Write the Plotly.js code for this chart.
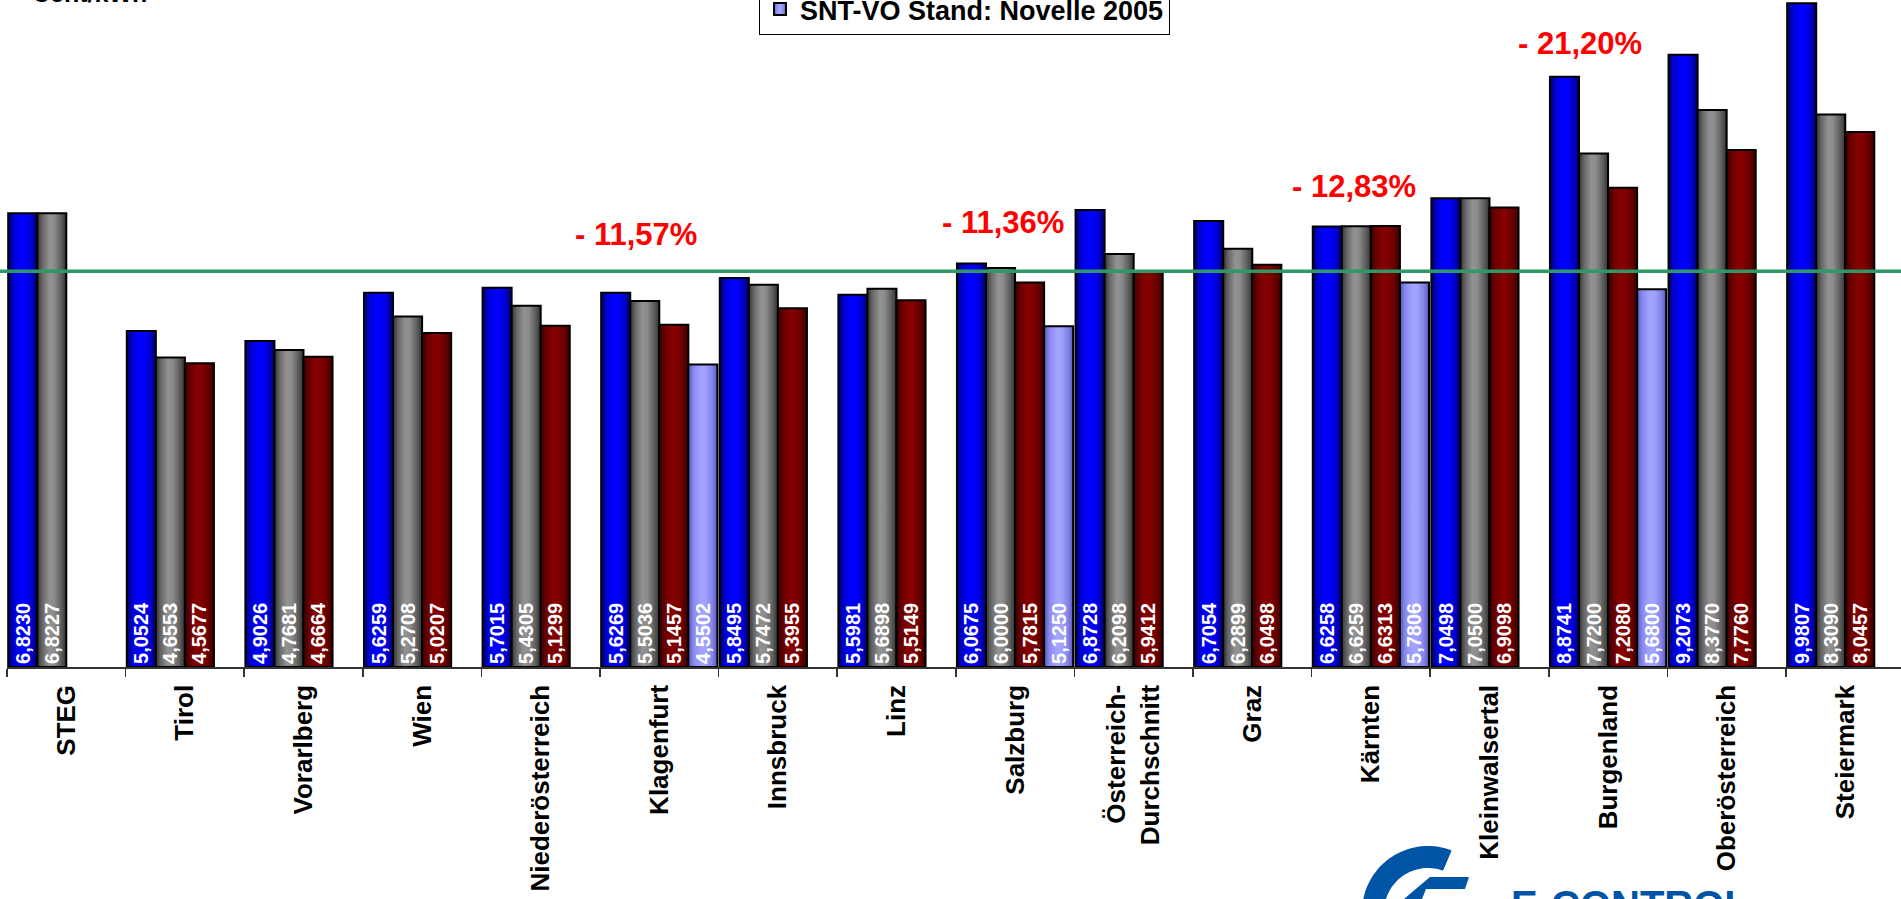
<!DOCTYPE html>
<html>
<head>
<meta charset="utf-8">
<script src="https://cdn.plot.ly/plotly-3.0.1.min.js"></script>
<style>
  html, body { margin: 0; padding: 0; background: #ffffff; overflow: hidden; }
  #chart { width: 1901px; height: 899px; }
</style>
</head>
<body>
<div id="chart"></div>
<script>
// ---------- data ----------
const categories = ['STEG', 'Tirol', 'Vorarlberg', 'Wien', 'Niederösterreich', 'Klagenfurt',
  'Innsbruck', 'Linz', 'Salzburg', 'Österreich-<br>Durchschnitt', 'Graz', 'Kärnten',
  'Kleinwalsertal', 'Burgenland', 'Oberösterreich', 'Steiermark'];

const seriesBlue = [6.8230, 5.0524, 4.9026, 5.6259, 5.7015, 5.6269, 5.8495, 5.5981, 6.0675,
  6.8728, 6.7054, 6.6258, 7.0498, 8.8741, 9.2073, 9.9807];
const seriesGray = [6.8227, 4.6553, 4.7681, 5.2708, 5.4305, 5.5036, 5.7472, 5.6898, 6.0000,
  6.2098, 6.2899, 6.6259, 7.0500, 7.7200, 8.3770, 8.3090];
const seriesRed = [null, 4.5677, 4.6664, 5.0207, 5.1299, 5.1457, 5.3955, 5.5149, 5.7815,
  5.9412, 6.0498, 6.6313, 6.9098, 7.2080, 7.7760, 8.0457];
const seriesNovelle2005 = [null, null, null, null, null, 4.5502, null, null, 5.1250,
  null, null, 5.7806, null, 5.6800, null, null];

const legendName = 'SNT-VO Stand: Novelle 2005';
const unitLabel = 'Cent/kWh';
const referenceLine = 5.95;
const changeLabels = ['- 11,57%', '- 11,36%', '- 12,83%', '- 21,20%'];
const logoText = 'E-CONTROL';

// ---------- helpers ----------
const FONT = 'Liberation Sans, Arial, Helvetica, sans-serif';
const fmt = v => (v === null ? '' : v.toFixed(4).replace('.', ','));

// plot area geometry (pixels)
const PL = 7, PW = 1894, PH = 667;
const px = x => (x - PL) / PW;
const py = y => (PH - y) / PH;

function barTrace(name, values, color, showLegend) {
  return {
    type: 'bar',
    name: name,
    x: categories,
    y: values,
    text: values.map(fmt),
    textposition: 'inside',
    insidetextanchor: 'start',
    textangle: -90,
    constraintext: 'none',
    insidetextfont: { family: FONT, size: 20, color: '#ffffff', weight: 'bold' },
    marker: { color: color, line: { color: '#000000', width: 2 } },
    showlegend: showLegend,
    hoverinfo: 'x+y+name'
  };
}

const traces = [
  barTrace('Serie 1', seriesBlue, '#0000ff', false),
  barTrace('Serie 2', seriesGray, '#7a7a7a', false),
  barTrace('Serie 3', seriesRed, '#780000', false),
  barTrace(legendName, seriesNovelle2005, '#9999ff', true)
];

// ---------- logo geometry (decoration) ----------
function ringPath() {
  const cx = 1428, cy = 912, R = 66, r = 44, a0 = 69, a1 = 250;
  const pts = [];
  for (let a = a0; a <= a1; a += 3) {
    const t = a * Math.PI / 180;
    pts.push([cx + R * Math.cos(t), cy - R * Math.sin(t)]);
  }
  for (let a = a1; a >= a0; a -= 3) {
    const t = a * Math.PI / 180;
    pts.push([cx + r * Math.cos(t), cy - r * Math.sin(t)]);
  }
  return 'M' + pts.map(p => px(p[0]).toFixed(5) + ',' + py(p[1]).toFixed(5)).join('L') + 'Z';
}
function polyPath(list) {
  return 'M' + list.map(p => px(p[0]).toFixed(5) + ',' + py(p[1]).toFixed(5)).join('L') + 'Z';
}

const annStyle = { family: FONT, size: 31, color: '#ff0000', weight: 'bold' };

const layout = {
  width: 1901,
  height: 899,
  margin: { l: PL, r: 0, t: 0, b: 899 - PH, autoexpand: false },
  paper_bgcolor: '#ffffff',
  plot_bgcolor: '#ffffff',
  barmode: 'group',
  bargap: 0.02,
  bargroupgap: 0,
  font: { family: FONT, color: '#000000' },
  xaxis: {
    type: 'category',
    range: [-0.5, 15.47],
    tickangle: -90,
    tickfont: { family: FONT, size: 26, color: '#000000', weight: 'bold' },
    ticks: 'outside',
    ticklen: 8,
    tickwidth: 1.5,
    tickcolor: '#333333',
    tickson: 'boundaries',
    ticklabelstandoff: 6,
    showline: true,
    linecolor: '#333333',
    linewidth: 1.5,
    showgrid: false,
    zeroline: false,
    fixedrange: true
  },
  yaxis: {
    range: [0, 10.03],
    showticklabels: false,
    showgrid: false,
    zeroline: false,
    showline: false,
    ticks: '',
    fixedrange: true
  },
  showlegend: true,
  legend: {
    x: px(759),
    xanchor: 'left',
    y: py(35),
    yanchor: 'bottom',
    bgcolor: '#ffffff',
    bordercolor: '#000000',
    borderwidth: 1,
    font: { family: FONT, size: 27, color: '#000000', weight: 'bold' }
  },
  shapes: [
    {
      type: 'line', xref: 'paper', yref: 'y', layer: 'above',
      x0: px(0), x1: 1, y0: referenceLine, y1: referenceLine,
      line: { color: '#2e9966', width: 3.5 }
    },
    {
      type: 'path', xref: 'paper', yref: 'paper', layer: 'above',
      path: ringPath(), fillcolor: '#0054a6', line: { width: 0 }
    },
    {
      type: 'path', xref: 'paper', yref: 'paper', layer: 'above',
      path: polyPath([[1430, 877], [1469, 877], [1465, 889], [1426, 889], [1422, 899], [1404, 899]]),
      fillcolor: '#0054a6', line: { width: 0 }
    }
  ],
  annotations: [
    { xref: 'paper', yref: 'paper', x: px(30), y: py(9), xanchor: 'left', yanchor: 'bottom',
      text: unitLabel, showarrow: false,
      font: { family: FONT, size: 25, color: '#000000', weight: 'bold' } },
    { xref: 'x', yref: 'y', x: 4.80, y: 6.50, text: changeLabels[0], showarrow: false, font: annStyle },
    { xref: 'x', yref: 'y', x: 7.90, y: 6.69, text: changeLabels[1], showarrow: false, font: annStyle },
    { xref: 'x', yref: 'y', x: 10.86, y: 7.22, text: changeLabels[2], showarrow: false, font: annStyle },
    { xref: 'x', yref: 'y', x: 12.76, y: 9.37, text: changeLabels[3], showarrow: false, font: annStyle },
    { xref: 'paper', yref: 'paper', x: px(1509), y: py(881), xanchor: 'left', yanchor: 'top',
      text: logoText, showarrow: false,
      font: { family: FONT, size: 40, color: '#0054a6', weight: 'bold' } }
  ]
};

// cylinder-like shading of the bars (style only)
const gradients = [
  ['gBlue', ['#000060', '#0000d0', '#0000ff', '#0000ff', '#0000c8', '#000060']],
  ['gGray', ['#333333', '#686868', '#929292', '#8c8c8c', '#5e5e5e', '#333333']],
  ['gRed', ['#380000', '#680000', '#860000', '#820000', '#640000', '#380000']],
  ['gLight', ['#5858bc', '#8888f0', '#a2a2ff', '#a2a2ff', '#8484ea', '#5858bc']]
];

function applyGradients(gd) {
  try {
    const svg = gd.querySelector('svg.main-svg');
    const ns = 'http://www.w3.org/2000/svg';
    if (!document.getElementById('gBlue')) {
      const defs = document.createElementNS(ns, 'defs');
      gradients.forEach(([id, stops]) => {
        const lg = document.createElementNS(ns, 'linearGradient');
        lg.setAttribute('id', id);
        lg.setAttribute('x1', '0'); lg.setAttribute('x2', '1');
        lg.setAttribute('y1', '0'); lg.setAttribute('y2', '0');
        const offs = ['0', '0.18', '0.42', '0.58', '0.82', '1'];
        stops.forEach((c, i) => {
          const s = document.createElementNS(ns, 'stop');
          s.setAttribute('offset', offs[i]);
          s.setAttribute('stop-color', c);
          lg.appendChild(s);
        });
        defs.appendChild(lg);
      });
      svg.insertBefore(defs, svg.firstChild);
    }
    gd.querySelectorAll('.barlayer .trace').forEach((g, i) => {
      g.querySelectorAll('.point path').forEach(p => {
        p.removeAttribute('style');
        p.setAttribute('fill', 'url(#' + gradients[i % 4][0] + ')');
        p.setAttribute('stroke', '#000000');
        p.setAttribute('stroke-width', '2');
      });
    });
    gd.querySelectorAll('.legend .legendpoints path').forEach(p => {
      p.removeAttribute('style');
      p.setAttribute('fill', 'url(#gLight)');
      p.setAttribute('stroke', '#000000');
      p.setAttribute('stroke-width', '2');
    });
  } catch (e) { /* keep plain colours */ }
}

const gd = document.getElementById('chart');
Plotly.newPlot(gd, traces, layout, { displayModeBar: false, staticPlot: true }).then(() => {
  applyGradients(gd);
});
</script>
</body>
</html>
